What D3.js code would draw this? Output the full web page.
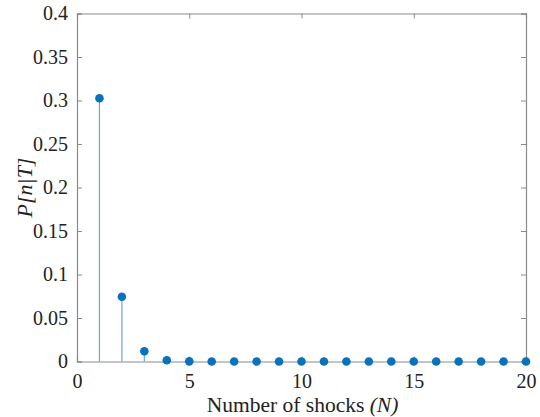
<!DOCTYPE html>
<html><head><meta charset="utf-8">
<script src="https://cdn.jsdelivr.net/npm/d3@7"></script>
<style>html,body{margin:0;padding:0;background:#fff;}svg{display:block;font-family:"Liberation Serif";}
svg text{font-family:"Liberation Serif";}</style>
</head><body>
<script>
const shocks = [1,2,3,4,5,6,7,8,9,10,11,12,13,14,15,16,17,18,19,20];
const probs = [0.3025,0.0745,0.0118,0.0015,0.00015,0.00001,0,0,0,0,0,0,0,0,0,0,0,0,0,0];
const xTicks = [0,5,10,15,20];
const yTicks = [0,0.05,0.1,0.15,0.2,0.25,0.3,0.35,0.4];
const xLabel = "Number of shocks ";
const xLabelItalic = "(N)";
const yLabel = "P[n|T]";

const W = 540, H = 417;
const m = {left:77, right:14, top:13.5, bottom:55.5};
const svg = d3.select("body").append("svg").attr("width",W).attr("height",H);
const x = d3.scaleLinear().domain([0,20]).range([m.left, W-m.right]);
const y = d3.scaleLinear().domain([0,0.4]).range([H-m.bottom, m.top]);
const axisColor = "#8a8a8a";
const FF = '"Liberation Serif"';

function styleAxis(g){
  g.attr("font-family",null).attr("font-size",null);
  g.select(".domain").attr("stroke",axisColor).attr("stroke-width",1.2);
  g.selectAll(".tick line").attr("stroke",axisColor).attr("stroke-width",1);
  g.selectAll(".tick text").attr("fill","#222").style("font-family",FF).style("font-size","20px");
}
// bottom
svg.append("g").attr("transform",`translate(0,${y(0)})`)
  .call(d3.axisBottom(x).tickValues(xTicks).tickSize(-5).tickPadding(12).tickFormat(d3.format("d")))
  .call(styleAxis);
// top
svg.append("g").attr("transform",`translate(0,${y(0.4)})`)
  .call(d3.axisTop(x).tickValues(xTicks).tickSize(-5).tickFormat(""))
  .call(styleAxis);
// left
svg.append("g").attr("transform",`translate(${x(0)},0)`)
  .call(d3.axisLeft(y).tickValues(yTicks).tickSize(-5).tickPadding(9).tickFormat(d=>String(+d.toFixed(2))))
  .call(styleAxis);
// right
svg.append("g").attr("transform",`translate(${x(20)},0)`)
  .call(d3.axisRight(y).tickValues(yTicks).tickSize(-5).tickFormat(""))
  .call(styleAxis);

// stems
const data = shocks.map((s,i)=>({s, p:probs[i]}));
svg.append("g").selectAll("line").data(data).join("line")
  .attr("x1",d=>x(d.s)).attr("x2",d=>x(d.s))
  .attr("y1",y(0)).attr("y2",d=>y(d.p))
  .attr("stroke","#62a9dc").attr("stroke-width",1.2);
svg.append("g").selectAll("circle").data(data).join("circle")
  .attr("cx",d=>x(d.s)).attr("cy",d=>y(d.p)).attr("r",4.3)
  .attr("fill","#0a72bd");

// labels
const xl = svg.append("text").attr("x",(x(0)+x(20))/2+1).attr("y",412)
  .attr("text-anchor","middle").style("font-family",FF).style("font-size","21.5px").attr("fill","#222");
xl.append("tspan").text(xLabel);
xl.append("tspan").style("font-style","italic").text(xLabelItalic);

svg.append("text").attr("transform",`translate(32,${(y(0)+y(0.4))/2}) rotate(-90)`)
  .attr("text-anchor","middle").style("font-family",FF).style("font-size","22px")
  .style("font-style","italic").attr("fill","#222").text(yLabel);
</script>
</body></html>
